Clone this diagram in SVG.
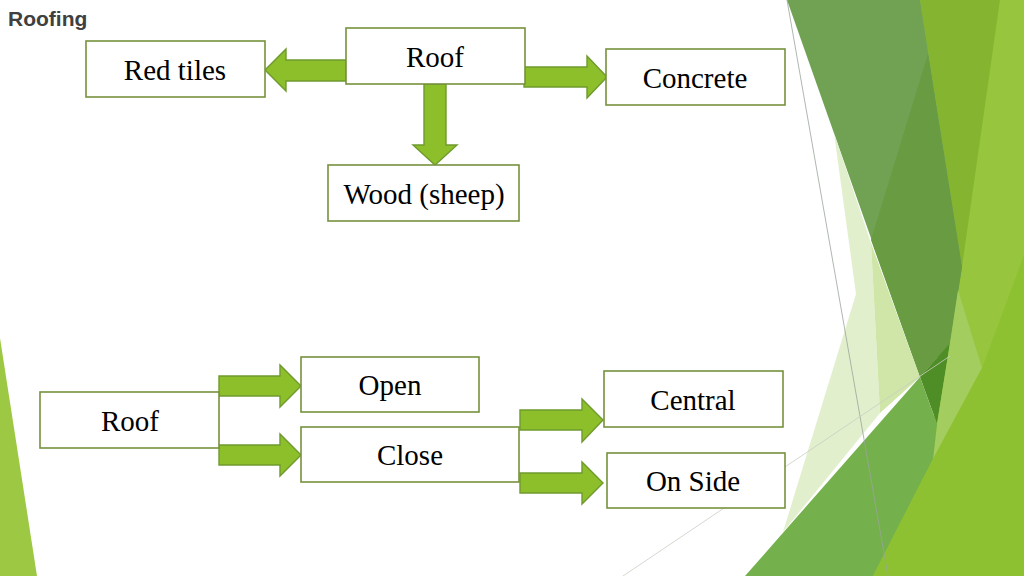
<svg xmlns="http://www.w3.org/2000/svg" width="1024" height="576" viewBox="0 0 1024 576">
<style>
.box{fill:#ffffff;stroke:#76923c;stroke-width:1.6}
.lbl{font-family:"Liberation Serif","Times New Roman",serif;font-size:29px;fill:#000000;text-anchor:middle}
.arr{fill:#8dbf2b;stroke:#6f9a2e;stroke-width:1.4;stroke-linejoin:miter}
.title{font-family:"Liberation Sans",Arial,sans-serif;font-size:21px;font-weight:bold;fill:#404040}
</style>
<rect x="0" y="0" width="1024" height="576" fill="#ffffff"/>
<g id="decoration">
<polygon points="0,338 0,576 37,576" fill="#9dc844"/>
<polygon points="915,0 1024,0 1024,576 870,576 940,400" fill="#97c63e"/>
<polygon points="920,0 1000,0 962,267" fill="#85b431"/>
<polygon points="787,0 920,0 962,267 950,343 920,377" fill="#71a253"/>
<polygon points="928,54 871,240 920,377 950,343 962,267" fill="#689b42"/>
<polygon points="834,133 856,294 783,532 880,413 871,243" fill="#e2efcd"/>
<polygon points="871,243 920,377 880,413" fill="#d0e6a8"/>
<polygon points="920,377 950,343 937,424" fill="#4f8d27"/>
<polygon points="958,290 982,368 933,459 937,424 950,343" fill="#a3cd5f"/>
<polygon points="745,576 920,377 937,424 933,459 873,576" fill="#74b04b"/>
<polygon points="1024,255 1024,576 873,576 933,459 982,368" fill="#8dc131"/>
<line x1="787" y1="0" x2="888" y2="576" stroke="#9aa59a" stroke-width="0.8"/>
<line x1="623" y1="576" x2="950" y2="356" stroke="#c9cec2" stroke-width="0.8"/>
</g>
<text class="title" x="8" y="26">Roofing</text>
<g id="connectors">
<polygon class="arr" points="346,60 286,60 286,49 265,70 286,91 286,81 346,81"/>
<polygon class="arr" points="524,67 587,67 587,56 607,77 587,98 587,87 524,87"/>
<polygon class="arr" points="424,84 446,84 446,145 457,145 435,165 413,145 424,145"/>
<polygon class="arr" points="219,376 280,376 280,365 301,386 280,407 280,396 219,396"/>
<polygon class="arr" points="219,445 280,445 280,434 301,455 280,476 280,465 219,465"/>
<polygon class="arr" points="520,410 582,410 582,399 603,420 582,442 582,430 520,430"/>
<polygon class="arr" points="520,473 582,473 582,462 603,483 582,504 582,493 520,493"/>
</g>
<g id="node-roof-top"><rect class="box" x="346" y="28" width="179" height="56"/><text class="lbl" x="435" y="67">Roof</text></g>
<g id="node-red-tiles"><rect class="box" x="86" y="41" width="179" height="56"/><text class="lbl" x="175" y="80">Red tiles</text></g>
<g id="node-concrete"><rect class="box" x="606" y="49" width="179" height="56"/><text class="lbl" x="695" y="88">Concrete</text></g>
<g id="node-wood"><rect class="box" x="328" y="165" width="191" height="56"/><text class="lbl" x="424" y="204">Wood (sheep)</text></g>
<g id="node-roof-bottom"><rect class="box" x="40" y="392" width="179" height="56"/><text class="lbl" x="130" y="431">Roof</text></g>
<g id="node-open"><rect class="box" x="301" y="357" width="178" height="55"/><text class="lbl" x="390" y="395">Open</text></g>
<g id="node-close"><rect class="box" x="301" y="427" width="218" height="55"/><text class="lbl" x="410" y="465">Close</text></g>
<g id="node-central"><rect class="box" x="604" y="371" width="179" height="56"/><text class="lbl" x="693" y="410">Central</text></g>
<g id="node-on-side"><rect class="box" x="607" y="453" width="178" height="55"/><text class="lbl" x="693" y="491">On Side</text></g>
</svg>
